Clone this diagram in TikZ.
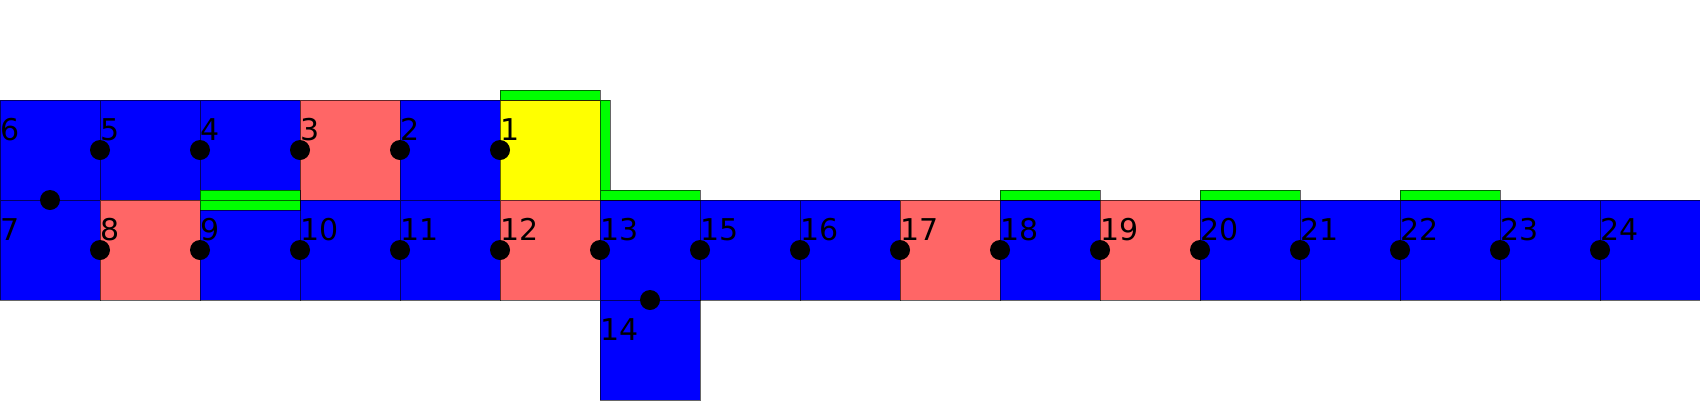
\documentclass[tikz,border=0pt]{standalone}
\usepackage{fontspec}
\newfontfamily\lblfont{DejaVu Sans}
\definecolor{cblue}{HTML}{0000FF}
\definecolor{cred}{HTML}{FF6666}
\definecolor{cyel}{HTML}{FFFF00}
\definecolor{cgreen}{HTML}{00FF00}
\begin{document}
\begin{tikzpicture}[x=1pt,y=-1pt,
  cell/.style={draw=black, draw opacity=0.6, line width=1pt, minimum width=100pt, minimum height=100pt, inner sep=0pt, outer sep=0pt, anchor=north west},
  bar/.style={draw=black, draw opacity=0.6, line width=1pt, fill=cgreen},
  dot/.style={circle, fill=black, minimum size=20pt, inner sep=0pt},
  lbl/.style={anchor=base west, inner sep=0pt, font=\lblfont\fontsize{30}{30}\selectfont}]
\useasboundingbox (0,0) rectangle (1700,400);
% top row
\node[cell, fill=cblue] (c6) at (0,100) {};
\node[cell, fill=cblue] (c5) at (100,100) {};
\node[cell, fill=cblue] (c4) at (200,100) {};
\node[cell, fill=cred]  (c3) at (300,100) {};
\node[cell, fill=cblue] (c2) at (400,100) {};
\node[cell, fill=cyel]  (c1) at (500,100) {};
% middle row
\node[cell, fill=cblue] (c7) at (0,200) {};
\node[cell, fill=cred]  (c8) at (100,200) {};
\node[cell, fill=cblue] (c9) at (200,200) {};
\node[cell, fill=cblue] (c10) at (300,200) {};
\node[cell, fill=cblue] (c11) at (400,200) {};
\node[cell, fill=cred]  (c12) at (500,200) {};
\node[cell, fill=cblue] (c13) at (600,200) {};
\node[cell, fill=cblue] (c15) at (700,200) {};
\node[cell, fill=cblue] (c16) at (800,200) {};
\node[cell, fill=cred]  (c17) at (900,200) {};
\node[cell, fill=cblue] (c18) at (1000,200) {};
\node[cell, fill=cred]  (c19) at (1100,200) {};
\node[cell, fill=cblue] (c20) at (1200,200) {};
\node[cell, fill=cblue] (c21) at (1300,200) {};
\node[cell, fill=cblue] (c22) at (1400,200) {};
\node[cell, fill=cblue] (c23) at (1500,200) {};
\node[cell, fill=cblue] (c24) at (1600,200) {};
% bottom
\node[cell, fill=cblue] (c14) at (600,300) {};
% green bars
\draw[bar] (500,90) rectangle (600,100);
\draw[bar] (600,100) rectangle (610,190);
\draw[bar] (600,190) rectangle (700,200);
\draw[bar] (200,190) rectangle (300,200);
\draw[bar] (200,200) rectangle (300,210);
\draw[bar] (1000,190) rectangle (1100,200);
\draw[bar] (1200,190) rectangle (1300,200);
\draw[bar] (1400,190) rectangle (1500,200);
% dots
\foreach \n in {5,4,3,2,1} \node[dot] (d\n) at (c\n.west) {};
\node[dot] (d6) at (c6.south) {};
\foreach \n in {8,9,10,11,12,13,15,16,17,18,19,20,21,22,23,24} \node[dot] (d\n) at (c\n.west) {};
\node[dot] (d14) at (c14.north) {};
% labels
\foreach \n in {6,5,4,3,2,1,7,8,9,10,11,12,13,15,16,17,18,19,20,21,22,23,24,14}
  \node[lbl] (l\n) at ([yshift=-40pt]c\n.north west) {\n};
\end{tikzpicture}
\end{document}
